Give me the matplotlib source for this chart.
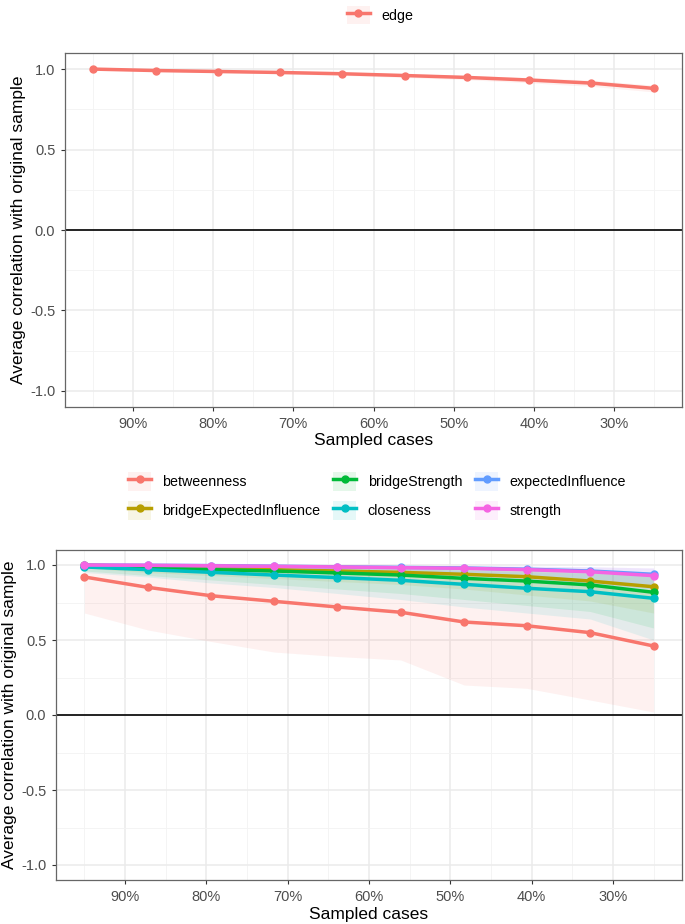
import matplotlib
matplotlib.use('Agg')
import matplotlib.pyplot as plt
from matplotlib.lines import Line2D
from matplotlib.patches import Patch
import numpy as np

plt.rcParams['font.family'] = ['Liberation Sans', 'DejaVu Sans']

# sampled cases (percent)
sampled = [95.0, 87.2, 79.4, 71.7, 63.9, 56.1, 48.3, 40.6, 32.8, 25.0]

# top panel: edge
edgeMean = [1.0, 0.991, 0.985, 0.979, 0.971, 0.96, 0.948, 0.932, 0.913, 0.88]
edgeLow = [0.998, 0.987, 0.979, 0.971, 0.961, 0.948, 0.934, 0.915, 0.893, 0.858]
edgeHigh = [1.0, 0.995, 0.99, 0.986, 0.98, 0.971, 0.961, 0.947, 0.931, 0.9]

# bottom panel: centrality indices
types = ['betweenness', 'bridgeExpectedInfluence', 'bridgeStrength',
         'closeness', 'expectedInfluence', 'strength']
colors = ['#F8766D', '#B79F00', '#00BA38', '#00BFC4', '#619CFF', '#F564E3']
means = {
    'betweenness': [0.92, 0.851, 0.795, 0.758, 0.72, 0.685, 0.62, 0.595, 0.549, 0.46],
    'bridgeExpectedInfluence': [1.0, 0.987, 0.978, 0.969, 0.96, 0.951, 0.938, 0.922, 0.893, 0.855],
    'bridgeStrength': [0.995, 0.982, 0.969, 0.96, 0.947, 0.933, 0.911, 0.893, 0.867, 0.818],
    'closeness': [0.987, 0.969, 0.951, 0.933, 0.916, 0.898, 0.871, 0.845, 0.822, 0.778],
    'expectedInfluence': [1.0, 0.998, 0.996, 0.992, 0.988, 0.984, 0.98, 0.972, 0.96, 0.938],
    'strength': [1.0, 0.998, 0.995, 0.991, 0.987, 0.982, 0.978, 0.969, 0.955, 0.929],
}
lows = {
    'betweenness': [0.68, 0.567, 0.49, 0.42, 0.39, 0.367, 0.2, 0.178, 0.1, 0.02],
    'bridgeExpectedInfluence': [0.98, 0.95, 0.93, 0.91, 0.89, 0.87, 0.84, 0.8, 0.76, 0.68],
    'bridgeStrength': [0.96, 0.93, 0.9, 0.87, 0.84, 0.81, 0.77, 0.73, 0.69, 0.58],
    'closeness': [0.95, 0.92, 0.88, 0.85, 0.81, 0.77, 0.72, 0.68, 0.64, 0.5],
    'expectedInfluence': [0.99, 0.98, 0.97, 0.96, 0.95, 0.94, 0.93, 0.91, 0.88, 0.84],
    'strength': [0.99, 0.98, 0.97, 0.96, 0.95, 0.94, 0.93, 0.91, 0.88, 0.84],
}
highs = {
    'betweenness': [0.99, 0.98, 0.965, 0.955, 0.945, 0.935, 0.91, 0.89, 0.87, 0.82],
    'bridgeExpectedInfluence': [1.0, 1.0, 0.995, 0.99, 0.99, 0.985, 0.98, 0.975, 0.965, 0.95],
    'bridgeStrength': [1.0, 0.998, 0.993, 0.99, 0.985, 0.98, 0.975, 0.965, 0.955, 0.94],
    'closeness': [1.0, 0.995, 0.99, 0.985, 0.98, 0.975, 0.965, 0.955, 0.945, 0.93],
    'expectedInfluence': [1.0, 1.0, 1.0, 0.999, 0.998, 0.997, 0.995, 0.992, 0.988, 0.98],
    'strength': [1.0, 1.0, 1.0, 0.999, 0.998, 0.997, 0.995, 0.992, 0.988, 0.98],
}

xTicks = [90, 80, 70, 60, 50, 40, 30]
xTickLabels = ['90%', '80%', '70%', '60%', '50%', '40%', '30%']
yTicks = [-1.0, -0.5, 0.0, 0.5, 1.0]

W, H = 685, 924
fig = plt.figure(figsize=(W / 100, H / 100), dpi=100)


def style_axes(ax):
    ax.set_xlim(98.5, 21.5)
    ax.set_ylim(-1.1, 1.1)
    ax.set_xticks(xTicks)
    ax.set_xticklabels(xTickLabels)
    ax.set_xticks([95, 85, 75, 65, 55, 45, 35, 25], minor=True)
    ax.set_yticks(yTicks)
    ax.set_yticklabels(['-1.0', '-0.5', '0.0', '0.5', '1.0'])
    ax.set_yticks([-0.75, -0.25, 0.25, 0.75], minor=True)
    ax.grid(which='major', color='#EBEBEB', linewidth=1.1, zorder=0)
    ax.grid(which='minor', color='#F3F3F3', linewidth=0.6, zorder=0)
    ax.set_axisbelow(True)
    ax.tick_params(which='major', length=3, width=0.8, color='#333333',
                   labelsize=10.5, labelcolor='#4D4D4D', pad=4)
    ax.tick_params(which='minor', length=0)
    for s in ax.spines.values():
        s.set_color('#666666')
        s.set_linewidth(0.9)
    ax.axhline(0, color='black', linewidth=1.2, zorder=2)
    ax.set_xlabel('Sampled cases', fontsize=12.5, labelpad=2)
    ax.set_ylabel('Average correlation with original sample', fontsize=12.5, labelpad=3)


def key_handle(c):
    return (Patch(facecolor=c, alpha=0.1, edgecolor='none'),
            Line2D([], [], color=c, linewidth=2.5, marker='o', markersize=5))


# top panel
ax1 = fig.add_axes([65 / W, 1 - 407 / H, 617 / W, 354 / H])
style_axes(ax1)
ax1.fill_between(sampled, edgeLow, edgeHigh, color='#F8766D', alpha=0.1, linewidth=0, zorder=3)
ax1.plot(sampled, edgeMean, color='#F8766D', linewidth=2.5, marker='o', markersize=5, zorder=4)
fig.legend([key_handle('#F8766D')], ['edge'], loc='center',
           bbox_to_anchor=(380 / W, 1 - 15 / H), frameon=False, fontsize=10.3,
           handlelength=1.6, handleheight=1.6, handletextpad=0.8)

# bottom panel
ax2 = fig.add_axes([56 / W, 1 - 880 / H, 626 / W, 330 / H])
style_axes(ax2)
for t, c in zip(types, colors):
    ax2.fill_between(sampled, lows[t], highs[t], color=c, alpha=0.1, linewidth=0, zorder=3)
for t, c in zip(types, colors):
    ax2.plot(sampled, means[t], color=c, linewidth=2.5, marker='o', markersize=5, zorder=4)

fig.legend([key_handle(c) for c in colors], types, loc='center', ncol=3,
           bbox_to_anchor=(377 / W, 1 - 496 / H), frameon=False, fontsize=10.3,
           handlelength=1.6, handleheight=1.6, handletextpad=0.8,
           columnspacing=0.9, labelspacing=0.75)

fig.savefig('out.png', dpi=100)
